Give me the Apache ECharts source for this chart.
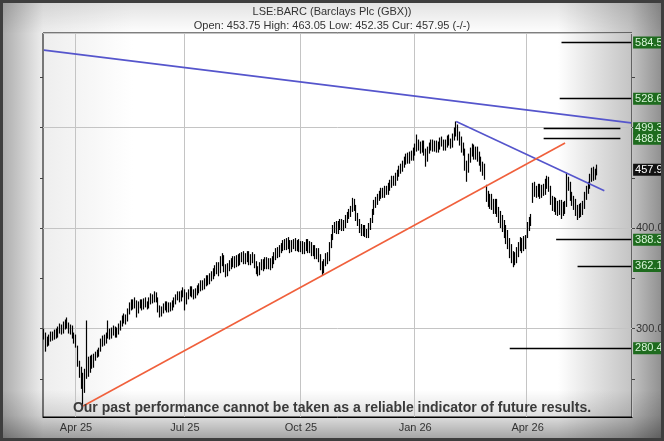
<!DOCTYPE html>
<html><head><meta charset="utf-8">
<script src="https://cdn.jsdelivr.net/npm/echarts@6/dist/echarts.min.js"></script>
<style>html,body{margin:0;padding:0;background:#fff}#c{width:664px;height:441px}</style>
</head><body><div id="c"></div>
<script>
// ---- data ----
const firstDay = '2025-03-06';
const dayCount = 330;
const holidays = ['2025-04-18','2025-04-21','2025-05-05','2025-05-26','2025-08-25','2025-12-25','2025-12-26','2026-01-01','2026-04-03','2026-04-06','2026-05-04','2026-05-25'];
const opens = [
297,293,289,285,290, 294,291,297,293,298,302,297,302,307, 304,298,301,293,291, 281,264,256, 240, 240, 254,
265,259,269,263, 271,274,275, 279,285,290,287, 292,297,293,296,300,294,297, 301,305,308,312,309,
316,321,326,322,326, 318,323,327,321,328,324,322, 327,332,328,334, 329,321,315,318, 321,325,319,324,320,
324,327,332,334,329,334,337, 327,332,335,339,336,332,336, 338,340,345,341,345,350,346,350,352,
355,358,363,358,366, 371,361,355,360, 363,365,369,364,370,366, 370,373,368,370,374,367,369,
371,365,359,355, 361,366,361,368,363,367,362, 367,371,377,373, 378,380,385,381,387,384,379,383,386,381,
385,380,384,378,381,386,379, 383,376,380,373,377, 371,364,357, 365,372, 369,383,
391,398,403,397,402,406,400, 403,408,413,414, 419,426, 421,412, 406,401,395,400,396, 392,401,408,
416,423,426, 431,432,437,433,439,436, 440,443,449,445,450, 455,457,459, 463,466,471,467,473,470,
475,479,485, 483,478,484,476,469,477, 480,485,479,484,478,481, 487,484,480,483,489,485,482,
489,495,500, 493,488,481, 476,463, 459,469,475,480,472, 478,472, 467,461,460,
440,433,425,431, 425,420,426, 418,413,409, 405,399,394, 387,379,371,367,369, 375,381,387,380,389,
392,401,406, 428,441, 438,435,441,434,440, 436,443,448, 440,429,422,427, 422,418,425,416,423,
424,447, 443,433,429, 426,420,413,421,415, 421,431,437, 441,449,457,451,453.75];
const closes = [
294,289,286,291,293, 292,296,294,299,301,298,303,306,305, 299,301,294,290,286, 266,258,247, 238, 252, 262,
258,268,264,271, 273,276,277, 286,289,287,292, 296,294,297,299,295,298,301, 304,309,311,308,316,
322,325,323,327,318, 324,326,322,327,325,323,328, 331,329,333,330, 320,316,319,322, 324,320,323,321,325,
328,331,333,330,335,337,326, 333,336,338,335,333,337,339, 341,344,342,346,349,347,351,353,356,
359,362,357,368,370, 360,356,361,364, 366,368,365,369,367,371, 372,369,371,373,368,370,372,
364,358,356,362, 365,362,367,364,366,363,368, 372,376,374,379, 381,384,382,386,383,380,384,385,382,384,
381,383,379,382,385,380,383, 377,379,374,376,372, 363,358,366, 371,368, 382,390,
399,402,398,403,405,401,404, 409,412,415,418, 425,422, 411,407, 400,396,399,395,393, 402,407,415,
424,427,430, 433,436,434,438,437,441, 444,448,446,451,454, 458,460,463, 467,470,468,472,471,476,
480,484,482, 479,483,477,470,478,481, 484,480,483,479,482,486, 485,481,484,488,486,483,490,
496,499,492, 487,480,478, 462,458, 470,476,479,473,477, 471,468, 462,459,453,
432,426,430,424, 421,425,417, 412,408,404, 398,393,388, 378,372,368,370,376, 382,386,381,388,384,
402,407,410, 440,437, 436,440,435,439,437, 444,447,442, 428,423,426,421, 419,424,417,422,420,
446,444, 432,428,425, 419,414,420,416,422, 432,438,442, 450,456,452,455,457.95];
const lows = [
289,277,282,283,287, 288,289,290,291,295,294,295,299,300, 295,294,290,285,281, 262,251,240, 223, 236, 250,
252,256,260,261, 268,271,272, 277,282,283,285, 290,289,290,293,291,291,294, 298,302,305,304,307,
314,318,319,320,311, 315,320,318,319,321,319,320, 324,325,326,326, 316,311,312,315, 318,316,316,317,318,
321,324,328,326,327,331,318, 324,329,332,331,329,330,333, 335,337,338,339,342,343,344,347,349,
352,354,352,355,362, 356,351,352,357, 359,361,360,361,362,363, 366,364,364,366,363,363,365,
360,354,352,353, 358,357,359,359,359,358,360, 364,368,370,371, 375,377,378,378,379,375,376,379,377,377,
376,376,374,374,377,375,375, 372,372,369,369,366, 358,353,355, 362,364, 367,380,
388,395,394,394,398,397,397, 400,405,409,411, 416,417, 407,402, 395,392,392,391,390, 390,398,405,
413,420,423, 427,429,430,430,433,433, 437,440,442,442,447, 451,454,456, 460,463,464,464,467,467,
472,476,477, 474,475,472,461,466,474, 477,476,476,475,475,478, 481,477,477,480,482,479,480,
487,491,487, 482,475,472, 457,446, 455,465,471,468,468, 466,462, 456,452,448,
426,421,419,418, 414,414,411, 405,400,396, 390,384,379, 370,365,361,363,365, 371,377,375,377,379,
390,397,402, 425,431, 430,431,429,430,432, 433,439,436, 423,417,416,413, 412,413,409,412,414,
421,437, 427,422,418, 412,408,410,411,413, 419,428,434, 439,446,447,448,452.35];
const highs = [
300,296,292,294,297, 297,299,300,302,305,304,307,309,311, 306,304,303,296,294, 283,268,262, 256, 260, 308,
272,273,274,275, 277,279,281, 290,293,294,296, 308,300,301,303,302,301,305, 308,313,315,314,320,
326,329,329,331,328, 327,329,329,330,331,327,331, 335,334,337,336, 331,323,322,325, 327,327,326,326,328,
331,334,337,337,338,341,339, 336,339,342,342,339,340,343, 345,348,348,350,353,353,355,357,360,
363,366,366,372,375, 373,364,365,368, 370,372,372,373,374,375, 376,377,375,377,377,374,376,
374,367,362,366, 369,369,371,371,370,370,372, 376,380,381,383, 385,388,389,390,391,388,388,389,390,388,
389,387,387,386,389,389,387, 386,383,383,380,380, 374,367,369, 375,376, 386,394,
403,406,407,407,409,409,408, 413,416,419,422, 430,429, 423,415, 409,404,403,403,399, 405,410,419,
428,431,434, 437,440,440,442,442,445, 448,452,452,455,458, 462,464,467, 471,474,475,476,477,480,
484,493,488, 486,487,487,479,481,485, 488,488,487,487,486,490, 491,488,488,492,493,489,494,
500,506,503, 496,491,485, 479,467, 474,480,484,483,481, 481,476, 471,466,464,
443,437,434,434, 429,429,429, 421,417,413, 408,403,398, 390,384,377,376,381, 386,391,390,392,393,
406,411,414, 445,446, 442,444,444,443,444, 449,452,451, 442,432,431,430, 427,428,428,426,427,
455,451, 446,436,432, 429,423,424,425,427, 436,442,446, 454,460,461,459,463.05];
const trendLines = [
  { from: ['2025-03-06', 577.0], to: ['2026-06-26', 504.6], color: '#5555cc' },
  { from: ['2026-02-04', 506.0], to: ['2026-06-05', 437.0], color: '#5555cc' },
  { from: ['2025-04-07', 223.0], to: ['2026-05-05', 484.6], color: '#f0603c' }
];
const targetValues = [584.50, 528.63, 499.32, 488.88, 388.38, 362.11, 280.45];
const targetFrom = ['2026-04-30','2026-04-29','2026-04-16','2026-04-16','2026-04-27','2026-05-14','2026-03-18'];
const targetTo = ['2026-06-26','2026-06-26','2026-06-18','2026-06-18','2026-06-26','2026-06-26','2026-06-26'];
const currentPrice = 457.95;
const axisLabelValues = [300, 400];
const minorTickValues = [250, 300, 350, 400, 450, 500, 550];
const titleText = 'LSE:BARC (Barclays Plc (GBX))';
const subText = 'Open: 453.75 High: 463.05 Low: 452.35 Cur: 457.95 (-/-)';
const disclaimer = 'Our past performance cannot be taken as a reliable indicator of future results.';

// ---- build ----
const dates = [];
{
  const d = new Date(firstDay + 'T00:00:00Z');
  while (dates.length < dayCount) {
    const s = d.toISOString().slice(0, 10);
    const wd = d.getUTCDay();
    if (wd !== 0 && wd !== 6 && holidays.indexOf(s) < 0) dates.push(s);
    d.setUTCDate(d.getUTCDate() + 1);
  }
}
const MON = ['Jan','Feb','Mar','Apr','May','Jun','Jul','Aug','Sep','Oct','Nov','Dec'];
function quarterStart(idx) {
  if (idx <= 0) return false;
  const m = +dates[idx].slice(5, 7), pm = +dates[idx - 1].slice(5, 7);
  return m !== pm && (m === 1 || m === 4 || m === 7 || m === 10);
}
const ohlc = closes.map((c, i) => [opens[i], c, lows[i], highs[i]]);
const yMin = 212, yMax = 594;
const FONT = 'Liberation Sans, Arial, sans-serif';

function boxLabel(v, bg, fg) {
  return [
    { coord: [dates[dates.length - 2], v], lineStyle: { color: 'rgba(0,0,0,0)', width: 0 },
      label: { show: true, position: 'end', distance: 2, formatter: v.toFixed(2),
        backgroundColor: bg, color: fg, fontSize: 11, padding: [1, 2, 0, 2],
        fontFamily: FONT, lineHeight: 11 } },
    { coord: [dates[dates.length - 1], v] }
  ];
}
const markData = [];
trendLines.forEach(t => markData.push([
  { coord: t.from, lineStyle: { color: t.color, width: 1.6, type: 'solid' } },
  { coord: t.to }
]));
targetValues.forEach((v, k) => {
  markData.push([
    { coord: [targetFrom[k], v], lineStyle: { color: '#000', width: 1.3, type: 'solid' } },
    { coord: [targetTo[k], v] }
  ]);
  markData.push(boxLabel(v, '#1e6b1e', '#d8f5d8'));
});
markData.push(boxLabel(currentPrice, '#111111', '#ffffff'));

const chart = echarts.init(document.getElementById('c'), null, { renderer: 'canvas' });
chart.setOption({
  animation: false,
  backgroundColor: 'transparent',
  graphic: [
    { type: 'rect', z: -20, shape: { x: 0, y: 0, width: 664, height: 441 },
      style: { fill: new echarts.graphic.LinearGradient(0, 0, 1, 0, [
        { offset: 0, color: '#a8a8a8' }, { offset: 0.065, color: '#eeeeee' },
        { offset: 0.2, color: '#ffffff' }, { offset: 0.84, color: '#ffffff' },
        { offset: 0.95, color: '#c4c4c4' }, { offset: 1, color: '#8c8c8c' }]) } },
    { type: 'rect', z: -19, shape: { x: 0, y: 0, width: 664, height: 34 },
      style: { fill: new echarts.graphic.LinearGradient(0, 0, 0, 1, [
        { offset: 0, color: 'rgba(0,0,0,0.12)' }, { offset: 1, color: 'rgba(0,0,0,0)' }]) } },
    { type: 'rect', z: -19, shape: { x: 0, y: 390, width: 664, height: 51 },
      style: { fill: new echarts.graphic.LinearGradient(0, 0, 0, 1, [
        { offset: 0, color: 'rgba(0,0,0,0)' }, { offset: 0.5, color: 'rgba(0,0,0,0.12)' },
        { offset: 1, color: 'rgba(0,0,0,0.38)' }]) } },
    { type: 'rect', z: 50, shape: { x: 1.5, y: 1.5, width: 661, height: 438 },
      style: { fill: 'none', stroke: '#3e3e3e', lineWidth: 3 } },
    { type: 'text', z: 40, left: 'center', top: 401,
      style: { text: disclaimer, font: 'bold 14px "Liberation Sans Narrow", "Liberation Sans", Arial, sans-serif', fill: '#3a3a3a' } }
  ],
  title: {
    text: titleText, subtext: subText, left: 'center', top: 1, itemGap: 3,
    textStyle: { fontSize: 11, fontWeight: 'normal', color: '#333', fontFamily: FONT },
    subtextStyle: { fontSize: 11, color: '#333', fontFamily: FONT }
  },
  grid: { left: 43, right: 32, top: 33, bottom: 24, outerBoundsMode: 'none', containLabel: false,
    show: true, borderColor: '#000', borderWidth: 1, backgroundColor: 'transparent' },
  xAxis: {
    type: 'category', data: dates, boundaryGap: true,
    axisLine: { show: true, lineStyle: { color: '#000' } },
    axisTick: { show: false },
    axisLabel: { interval: (i) => quarterStart(i), color: '#333', fontSize: 11, fontFamily: FONT, margin: 5,
      formatter: (v) => MON[+v.slice(5, 7) - 1] + ' ' + v.slice(2, 4) },
    splitLine: { show: true, interval: (i) => quarterStart(i), lineStyle: { color: '#c4c4c4', width: 1 } }
  },
  yAxis: [
    { type: 'value', position: 'right', min: yMin, max: yMax, scale: true,
      axisLine: { show: false }, axisTick: { show: false },
      axisLabel: { customValues: axisLabelValues, formatter: (v) => v.toFixed(2), color: '#333', fontSize: 11, fontFamily: FONT, margin: 4 },
      splitLine: { show: true, lineStyle: { color: '#c4c4c4', width: 1 } } },
    { type: 'value', position: 'right', min: yMin, max: yMax, scale: true,
      axisLine: { show: false }, axisLabel: { show: false }, splitLine: { show: false },
      axisTick: { show: true, customValues: minorTickValues, length: 3, lineStyle: { color: '#444' } } },
    { type: 'value', position: 'left', min: yMin, max: yMax, scale: true,
      axisLine: { show: false }, axisLabel: { show: false }, splitLine: { show: false },
      axisTick: { show: true, customValues: minorTickValues, length: 3, lineStyle: { color: '#444' } } }
  ],
  series: [{
    type: 'candlestick', data: ohlc, yAxisIndex: 0, barWidth: 1, clip: false,
    itemStyle: { color: '#000', color0: '#000', borderColor: '#000', borderColor0: '#000', borderWidth: 1.2 },
    markLine: { symbol: ['none', 'none'], silent: true, animation: false, label: { show: false }, data: markData }
  }]
});
</script></body></html>
